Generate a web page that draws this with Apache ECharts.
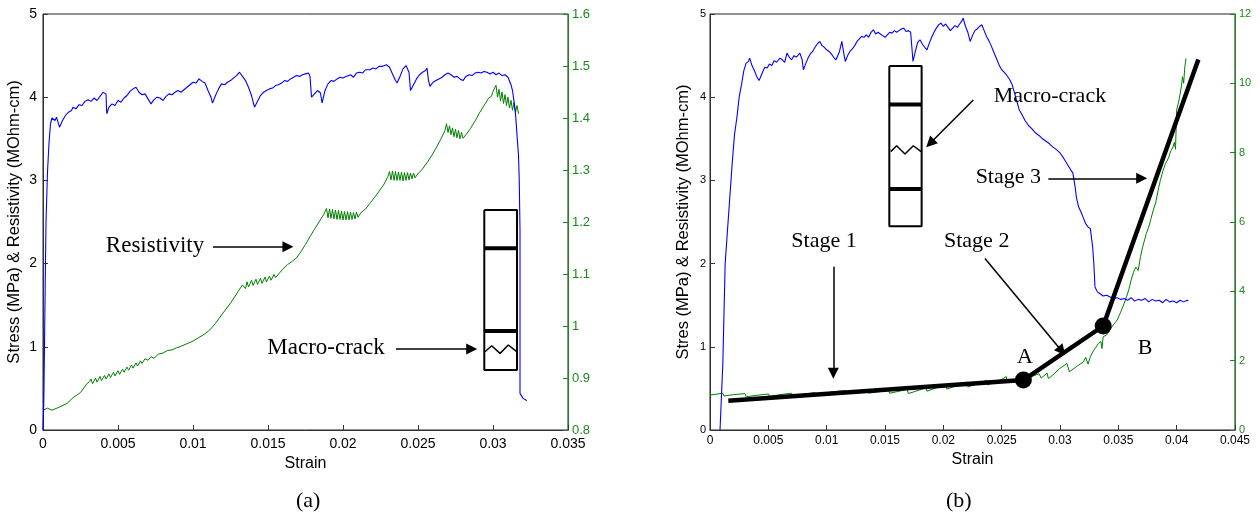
<!DOCTYPE html>
<html>
<head>
<meta charset="utf-8">
<script src="https://cdn.jsdelivr.net/npm/echarts@6.0.0/dist/echarts.min.js"></script>
<style>html,body{margin:0;padding:0;background:#fff;}#chart{width:1260px;height:516px;}</style>
</head>
<body>
<div id="chart"></div>
<script>
// ---------------- Panel (a) data: [strain, value] ----------------
const stressA = [
[0,0],[0.00005,0.3],[0.0001,1.0],[0.00015,1.8],[0.0002,2.5],[0.0003,3.1],[0.0004,3.45],[0.0005,3.68],[0.0006,3.75],[0.0008,3.72],[0.0009,3.76],[0.0011,3.64],[0.0013,3.72],[0.0015,3.78],[0.0017,3.82],[0.0019,3.84],[0.002,3.88],[0.0022,3.86],[0.0024,3.91],[0.0026,3.90],[0.0028,3.95],[0.003,3.97],[0.0032,3.95],[0.0034,3.99],[0.0036,3.96],[0.0038,4.01],[0.004,4.06],[0.0041,4.08],[0.0042,4.04],[0.00425,3.80],[0.0044,3.88],[0.0046,3.92],[0.0048,3.90],[0.005,3.96],[0.0052,3.94],[0.0054,3.99],[0.0056,4.02],[0.0058,4.07],[0.006,4.10],[0.0062,4.12],[0.0064,4.06],[0.0066,4.03],[0.0068,4.04],[0.007,3.98],[0.0072,3.92],[0.0074,3.97],[0.0076,4.00],[0.0078,3.99],[0.008,3.96],[0.0082,4.01],[0.0084,4.04],[0.0086,4.03],[0.0088,4.06],[0.009,4.08],[0.0092,4.06],[0.0094,4.09],[0.0096,4.12],[0.0098,4.15],[0.01,4.18],[0.0102,4.17],[0.0104,4.22],[0.0106,4.19],[0.0108,4.17],[0.011,4.08],[0.0112,4.00],[0.0113,3.93],[0.0115,4.02],[0.0117,4.10],[0.0119,4.16],[0.0121,4.15],[0.0123,4.18],[0.0125,4.20],[0.0127,4.23],[0.0129,4.26],[0.0131,4.30],[0.0133,4.25],[0.0135,4.20],[0.0137,4.12],[0.0139,4.02],[0.0141,3.88],[0.0143,3.95],[0.0145,4.02],[0.0147,4.06],[0.0149,4.08],[0.0151,4.10],[0.0153,4.11],[0.0155,4.14],[0.0157,4.15],[0.0159,4.17],[0.0161,4.20],[0.0163,4.19],[0.0165,4.22],[0.0167,4.24],[0.0169,4.26],[0.0171,4.25],[0.0173,4.27],[0.0175,4.28],[0.0177,4.29],[0.0178,4.25],[0.0179,4.00],[0.0181,4.04],[0.0183,4.08],[0.0185,4.05],[0.0186,3.93],[0.0188,4.08],[0.019,4.16],[0.0192,4.20],[0.0194,4.19],[0.0196,4.22],[0.0198,4.24],[0.02,4.23],[0.0202,4.25],[0.0205,4.27],[0.0207,4.24],[0.0209,4.29],[0.0211,4.30],[0.0213,4.29],[0.0215,4.33],[0.0218,4.33],[0.022,4.35],[0.0222,4.34],[0.0224,4.37],[0.0226,4.37],[0.0229,4.39],[0.0231,4.36],[0.0233,4.28],[0.0235,4.20],[0.0236,4.17],[0.0238,4.25],[0.024,4.34],[0.0242,4.38],[0.0244,4.30],[0.0245,4.08],[0.0247,4.15],[0.0249,4.22],[0.0251,4.27],[0.0253,4.30],[0.0255,4.32],[0.0256,4.35],[0.0257,4.20],[0.0258,4.13],[0.026,4.18],[0.0262,4.20],[0.0264,4.22],[0.0266,4.24],[0.0268,4.27],[0.027,4.29],[0.0272,4.27],[0.0274,4.24],[0.0276,4.25],[0.0278,4.22],[0.028,4.20],[0.0282,4.25],[0.0284,4.27],[0.0286,4.26],[0.0288,4.29],[0.029,4.30],[0.0292,4.29],[0.0294,4.31],[0.0296,4.30],[0.0298,4.28],[0.03,4.30],[0.0302,4.27],[0.0304,4.29],[0.0306,4.26],[0.0308,4.27],[0.031,4.24],[0.0312,4.15],[0.0313,4.08],[0.0314,3.95],[0.0315,3.80],[0.0316,3.55],[0.0317,3.30],[0.03175,3.00],[0.0318,2.40],[0.0318,1.0],[0.0318,0.44],[0.0319,0.42],[0.032,0.38],[0.0321,0.40],[0.0322,0.36],[0.03225,0.35]
];
const resistA = [
[0,0.838],[0.0003,0.842],[0.0006,0.838],[0.001,0.843],[0.0016,0.851],[0.002,0.862],[0.0025,0.872],[0.0029,0.888],[0.0031,0.893],
[0.0032,0.898],[0.0033,0.889],[0.0035,0.900],[0.0036,0.892],[0.0038,0.903],[0.0039,0.895],[0.0041,0.905],[0.0042,0.898],[0.0044,0.908],[0.0045,0.901],[0.0047,0.911],[0.0048,0.904],[0.005,0.914],[0.0051,0.907],[0.0053,0.917],[0.0054,0.911],[0.0056,0.921],[0.0057,0.915],[0.0059,0.925],[0.006,0.919],[0.0062,0.929],[0.0063,0.923],[0.0065,0.933],[0.0066,0.928],[0.0068,0.937],[0.007,0.934],[0.0072,0.941],[0.0074,0.938],[0.0077,0.946],[0.008,0.948],[0.0083,0.953],[0.0086,0.954],[0.0089,0.958],[0.0092,0.961],[0.0096,0.966],[0.01,0.971],[0.0104,0.978],[0.0108,0.985],[0.0111,0.992],[0.0115,1.005],[0.012,1.025],[0.0125,1.044],[0.013,1.066],[0.0133,1.079],
[0.0135,1.072],[0.0136,1.085],[0.0137,1.075],[0.0139,1.088],[0.014,1.078],[0.0142,1.090],[0.0143,1.080],[0.0145,1.092],[0.0146,1.082],[0.0148,1.094],[0.0149,1.085],[0.0151,1.096],[0.0152,1.088],[0.0154,1.099],[0.0155,1.093],[0.0158,1.103],[0.016,1.110],[0.0163,1.118],[0.0166,1.124],[0.0169,1.131],[0.0172,1.143],[0.0175,1.157],[0.0178,1.172],[0.0181,1.186],[0.0184,1.200],[0.0187,1.214],[0.0189,1.226],
[0.019,1.208],[0.0191,1.225],[0.0192,1.207],[0.0193,1.224],[0.0194,1.206],[0.0195,1.223],[0.0196,1.205],[0.0197,1.222],[0.0198,1.205],[0.0199,1.221],[0.02,1.204],[0.0201,1.220],[0.0202,1.204],[0.0203,1.220],[0.0204,1.204],[0.0205,1.219],[0.0206,1.205],[0.0207,1.218],[0.0208,1.206],[0.0209,1.219],[0.021,1.209],[0.0212,1.218],[0.0215,1.225],[0.0218,1.236],[0.0221,1.247],[0.0224,1.259],[0.0227,1.271],[0.023,1.288],[0.0231,1.297],
[0.0232,1.281],[0.0233,1.298],[0.0234,1.280],[0.0235,1.297],[0.0236,1.280],[0.0237,1.296],[0.0238,1.280],[0.0239,1.296],[0.024,1.279],[0.0241,1.295],[0.0242,1.280],[0.0243,1.295],[0.0244,1.281],[0.0245,1.294],[0.0246,1.283],[0.0247,1.294],[0.0248,1.285],[0.025,1.293],[0.0253,1.302],[0.0256,1.314],[0.0259,1.327],[0.0262,1.342],[0.0265,1.358],[0.0268,1.376],[0.0269,1.389],
[0.027,1.372],[0.0271,1.385],[0.0272,1.368],[0.0273,1.381],[0.0274,1.364],[0.0275,1.378],[0.0276,1.362],[0.0277,1.376],[0.0278,1.360],[0.0279,1.372],[0.028,1.361],[0.0282,1.368],[0.0285,1.380],[0.0288,1.394],[0.0291,1.410],[0.0294,1.424],[0.0297,1.438],[0.0299,1.442],[0.03,1.451],[0.0302,1.463],
[0.0303,1.440],[0.0304,1.455],[0.0305,1.433],[0.0306,1.450],[0.0307,1.428],[0.0308,1.445],[0.0309,1.424],[0.031,1.440],[0.0311,1.419],[0.0312,1.434],[0.0313,1.415],[0.0314,1.430],[0.0315,1.411],[0.0316,1.424],[0.0317,1.408]
];
// annotations (a), in strain / stress units: [x, y, text]
const textsA = [[0.00747,2.217,'Resistivity'],[0.01887,0.986,'Macro-crack']];
const arrowsA = [[[0.01133,2.203],[0.01633,2.203]],[[0.02353,0.974],[0.02858,0.974]]];
const boxA = [[0.02942,2.644],[0.0316,2.644],[0.0316,0.721],[0.02942,0.721],[0.02942,2.644]];
const barsA = [[[0.02942,2.184],[0.0316,2.184]],[[0.02942,1.19],[0.0316,1.19]]];
const crackA = [[0.02947,0.941],[0.02991,1.013],[0.03047,0.921],[0.03102,1.022],[0.03158,0.941]];

// ---------------- Panel (b) data ----------------
const stressB = [
[0.00086,0],[0.0011,0.8],[0.0013,2.0],[0.0015,2.4],[0.0017,2.8],[0.0019,3.2],[0.0021,3.55],[0.0023,3.75],[0.0025,4.0],[0.0027,4.15],[0.0029,4.32],[0.0031,4.41],[0.0033,4.43],[0.0034,4.47],[0.0036,4.38],[0.0038,4.32],[0.004,4.25],[0.0042,4.20],[0.0043,4.23],[0.0045,4.30],[0.0047,4.36],[0.0049,4.35],[0.0051,4.40],[0.0053,4.38],[0.0055,4.44],[0.0057,4.42],[0.006,4.47],[0.0062,4.45],[0.0064,4.42],[0.0066,4.53],[0.0068,4.48],[0.007,4.45],[0.0072,4.50],[0.0074,4.48],[0.0077,4.53],[0.0079,4.45],[0.008,4.33],[0.0082,4.40],[0.0084,4.47],[0.0086,4.52],[0.0088,4.55],[0.009,4.60],[0.0092,4.64],[0.0094,4.67],[0.0096,4.62],[0.0098,4.60],[0.01,4.57],[0.0102,4.55],[0.0104,4.52],[0.0106,4.48],[0.0108,4.45],[0.0109,4.43],[0.0111,4.55],[0.0113,4.67],[0.0115,4.50],[0.0116,4.43],[0.0118,4.50],[0.012,4.55],[0.0122,4.58],[0.0124,4.62],[0.0126,4.67],[0.0128,4.70],[0.013,4.73],[0.0132,4.72],[0.0134,4.75],[0.0136,4.72],[0.0138,4.78],[0.014,4.81],[0.0142,4.76],[0.0144,4.78],[0.0146,4.76],[0.0148,4.74],[0.015,4.72],[0.0152,4.75],[0.0154,4.78],[0.0156,4.77],[0.0158,4.80],[0.016,4.78],[0.0162,4.80],[0.0164,4.82],[0.0166,4.83],[0.0168,4.79],[0.017,4.80],[0.0172,4.78],[0.0174,4.43],[0.0176,4.55],[0.0178,4.66],[0.018,4.69],[0.0182,4.64],[0.0184,4.60],[0.0186,4.57],[0.0188,4.65],[0.019,4.72],[0.0192,4.78],[0.0194,4.83],[0.0196,4.87],[0.0198,4.89],[0.02,4.85],[0.0202,4.88],[0.0204,4.84],[0.0206,4.80],[0.0208,4.83],[0.021,4.86],[0.0212,4.84],[0.0214,4.88],[0.0216,4.92],[0.0217,4.95],[0.0219,4.85],[0.0221,4.78],[0.0223,4.67],[0.0225,4.74],[0.0227,4.80],[0.0229,4.82],[0.0231,4.85],[0.0233,4.87],[0.0235,4.80],[0.0237,4.73],[0.0239,4.68],[0.0241,4.62],[0.0243,4.55],[0.0246,4.45],[0.0248,4.38],[0.025,4.33],[0.0252,4.30],[0.0254,4.27],[0.0257,4.21],[0.0259,4.15],[0.0261,4.05],[0.0263,3.95],[0.0265,3.85],[0.0267,3.80],[0.027,3.72],[0.0273,3.66],[0.0276,3.62],[0.0279,3.57],[0.0282,3.54],[0.0285,3.50],[0.0288,3.47],[0.0291,3.44],[0.0294,3.40],[0.0297,3.37],[0.03,3.33],[0.0303,3.27],[0.0306,3.20],[0.0309,3.13],[0.0311,3.09],[0.0313,2.92],[0.0314,2.80],[0.0316,2.68],[0.0318,2.62],[0.032,2.55],[0.0322,2.48],[0.0324,2.44],[0.0326,2.42],[0.0327,2.40],[0.0328,2.20],[0.0329,2.00],[0.033,1.72],[0.0332,1.66],[0.0334,1.64],[0.0337,1.61],[0.034,1.62],[0.0343,1.60],[0.0346,1.58],[0.0349,1.59],[0.0352,1.57],[0.0355,1.58],[0.0358,1.56],[0.0361,1.59],[0.0364,1.55],[0.0367,1.57],[0.037,1.56],[0.0373,1.58],[0.0376,1.54],[0.0379,1.57],[0.0382,1.55],[0.0385,1.56],[0.0388,1.53],[0.0391,1.57],[0.0394,1.54],[0.0397,1.55],[0.04,1.53],[0.0403,1.56],[0.0406,1.54],[0.0409,1.56],[0.041,1.55]
];
const resistB = [
[0,1.01],[0.0011,1.06],[0.0012,0.98],[0.002,1.02],[0.003,1.05],[0.0031,0.96],[0.004,1.0],[0.005,1.04],[0.0051,0.97],[0.006,1.02],[0.007,1.06],[0.0072,0.99],[0.008,1.03],[0.009,1.08],[0.0091,1.02],[0.0105,1.10],[0.0116,1.14],[0.0117,1.05],[0.013,1.10],[0.0135,1.14],[0.0136,1.06],[0.015,1.13],[0.0153,1.17],[0.0154,1.06],[0.0165,1.14],[0.0169,1.19],[0.017,1.05],[0.018,1.16],[0.0185,1.22],[0.0186,1.12],[0.0197,1.25],[0.0202,1.30],[0.0203,1.18],[0.0215,1.32],[0.022,1.38],[0.0221,1.24],[0.0235,1.40],[0.0237,1.44],[0.0238,1.30],[0.025,1.46],[0.0254,1.54],[0.0255,1.40],[0.0265,1.50],[0.027,1.44],[0.0276,1.55],[0.0282,1.62],[0.0284,1.50],[0.0289,1.64],[0.029,1.48],[0.0295,1.62],[0.03,1.78],[0.0306,1.92],[0.0308,1.68],[0.0315,1.85],[0.032,1.96],[0.0322,2.10],[0.0324,1.90],[0.0326,2.11],[0.0328,2.25],[0.033,2.35],[0.0333,2.50],[0.0335,2.55],[0.0336,2.35],[0.0337,2.69],[0.034,2.74],[0.0343,2.90],[0.0346,3.05],[0.0349,3.17],[0.0352,3.40],[0.0355,3.65],[0.0357,3.84],[0.0359,4.05],[0.0361,4.33],[0.0363,4.55],[0.0365,4.70],[0.0367,4.60],[0.0369,5.0],[0.0371,5.30],[0.0374,5.67],[0.0376,5.85],[0.0378,6.10],[0.038,6.35],[0.0382,6.55],[0.0384,6.90],[0.0386,7.20],[0.0388,7.45],[0.039,7.65],[0.0393,7.85],[0.0395,8.05],[0.0397,8.17],[0.0398,8.30],[0.0399,8.10],[0.04,9.23],[0.0402,9.52],[0.0404,9.90],[0.0405,10.19],[0.0406,10.0],[0.0407,10.48],[0.0408,10.72]
];
// bilinear fit and stage points (resistivity units)
const fitB = [[0.00157,0.845],[0.02686,1.44],[0.0337,3.0],[0.04186,10.69]];
const pointsB = [[0.02686,1.44],[0.0337,3.0]];
// annotations (b), in strain / resistivity units
const textsB = [[0.00977,5.45,'Stage 1'],[0.02286,5.45,'Stage 2'],[0.02557,7.28,'Stage 3'],[0.02914,9.62,'Macro-crack'],[0.027,2.11,'A'],[0.03729,2.37,'B']];
const arrowsB = [[[0.01057,4.71],[0.01057,1.64]],[[0.02357,4.95],[0.03015,2.28]],[[0.029,7.26],[0.037,7.26]],[[0.02257,9.52],[0.01887,8.27]]];
const boxB = [[0.01537,10.5],[0.01814,10.5],[0.01814,5.88],[0.01537,5.88],[0.01537,10.5]];
const barsB = [[[0.01537,9.39],[0.01814,9.39]],[[0.01537,6.95],[0.01814,6.95]]];
const crackB = [[0.01549,8.03],[0.016,8.2],[0.01671,7.96],[0.01743,8.2],[0.01809,8.03]];

// ---------------- chart ----------------
const SANS = "'Liberation Sans', Arial, Helvetica, sans-serif";
const SERIF = "'Liberation Serif', 'Times New Roman', serif";
const GREEN_AX = '#1a8a1a';
const AXC = '#333';

function xAx(gi, max, fs, gap, margin) {
  return {
    type:'value', gridIndex:gi, min:0, max:max, interval:0.005,
    name:'Strain', nameLocation:'middle', nameGap:gap,
    nameTextStyle:{fontFamily:SANS, fontSize:16, color:'#000'},
    axisLine:{onZero:false, lineStyle:{color:AXC, width:1}},
    axisTick:{inside:true, length:5, lineStyle:{color:AXC}},
    axisLabel:{fontFamily:SANS, fontSize:fs, color:'#000', margin:margin},
    splitLine:{show:false}
  };
}
function yAx(gi, pos, min, max, interval, opts) {
  const green = pos === 'right';
  const c = green ? GREEN_AX : AXC;
  return Object.assign({
    type:'value', gridIndex:gi, position:pos, min:min, max:max, interval:interval,
    axisLine:{show:true, onZero:false, lineStyle:{color:c, width:1}},
    axisTick:{show:true, inside:true, length:5, lineStyle:{color:c}},
    axisLabel:{fontFamily:SANS, fontSize:opts.fs, color: green ? GREEN_AX : '#000', margin:opts.margin},
    splitLine:{show:false}
  }, opts.extra || {});
}
function lineS(xi, yi, data, color, width, z) {
  return {type:'line', xAxisIndex:xi, yAxisIndex:yi, data:data, symbol:'none', silent:true,
    lineStyle:{color:color, width:width}, z:z||2, animation:false};
}
function textS(xi, yi, texts, arrows, fs) {
  return {
    type:'scatter', xAxisIndex:xi, yAxisIndex:yi, symbolSize:1, silent:true, z:10,
    itemStyle:{color:'rgba(0,0,0,0)', opacity:1},
    data: texts.map(t => ({value:[t[0], t[1]], name:t[2]})),
    label:{show:true, position:'inside', formatter:'{b}', fontFamily:SERIF, fontSize:fs, color:'#000', opacity:1},
    markLine:{
      silent:true, animation:false, symbol:['none','triangle'], symbolSize:11,
      lineStyle:{color:'#000', width:1.5, type:'solid', opacity:1}, itemStyle:{opacity:1}, label:{show:false}, emphasis:{disabled:true},
      data: arrows.map(a => [{coord:a[0]}, {coord:a[1]}])
    }
  };
}

const series = [
  lineS(0, 1, resistA, '#008000', 1, 2),
  lineS(0, 0, stressA, '#0000ff', 1.1, 3),
  lineS(0, 0, boxA, '#000', 2, 5),
  lineS(0, 0, crackA, '#000', 1.5, 5),
  textS(0, 0, textsA, arrowsA, 23),
  lineS(1, 3, resistB, '#008000', 1, 2),
  lineS(1, 2, stressB, '#0000ff', 1.1, 3),
  lineS(1, 3, boxB, '#000', 2, 5),
  lineS(1, 3, crackB, '#000', 1.5, 5),
  lineS(1, 3, fitB, '#000', 4.5, 6),
  {type:'scatter', xAxisIndex:1, yAxisIndex:3, data:pointsB, symbol:'circle', symbolSize:17, silent:true,
   itemStyle:{color:'#000', opacity:1}, z:7, animation:false},
  textS(1, 3, textsB, arrowsB, 22)
];
barsA.forEach(b => series.push(lineS(0, 0, b, '#000', 4, 5)));
barsB.forEach(b => series.push(lineS(1, 3, b, '#000', 4, 5)));

const option = {
  animation:false,
  backgroundColor:'#fff',
  title:[
    {text:'(a)', left:291, top:485, textStyle:{fontFamily:SERIF, fontSize:22, fontWeight:'normal', color:'#000'}},
    {text:'(b)', left:941, top:485, textStyle:{fontFamily:SERIF, fontSize:22, fontWeight:'normal', color:'#000'}}
  ],
  grid:[
    {left:43, top:14, width:525, height:416, show:true, borderColor:'#222', borderWidth:1, backgroundColor:'transparent'},
    {left:710, top:14, width:525, height:416, show:true, borderColor:'#222', borderWidth:1, backgroundColor:'transparent'}
  ],
  xAxis:[ xAx(0, 0.035, 14, 22, 7), xAx(1, 0.045, 12, 20, 5) ],
  yAxis:[
    yAx(0, 'left', 0, 5, 1, {fs:14, margin:6, extra:{name:'Stress (MPa) & Resistivity (MOhm-cm)', nameLocation:'middle', nameGap:20, nameTextStyle:{fontFamily:SANS, fontSize:16.5, color:'#000'}}}),
    yAx(0, 'right', 0.8, 1.6, 0.1, {fs:13, margin:4}),
    yAx(1, 'left', 0, 5, 1, {fs:11, margin:4, extra:{name:'Stres (MPa) & Resistivity (MOhm-cm)', nameLocation:'middle', nameGap:18, nameTextStyle:{fontFamily:SANS, fontSize:16.5, color:'#000'}}}),
    yAx(1, 'right', 0, 12, 2, {fs:11, margin:4})
  ],
  series: series
};
const chart = echarts.init(document.getElementById('chart'), null, {renderer:'canvas'});
chart.setOption(option);
</script>
</body>
</html>
